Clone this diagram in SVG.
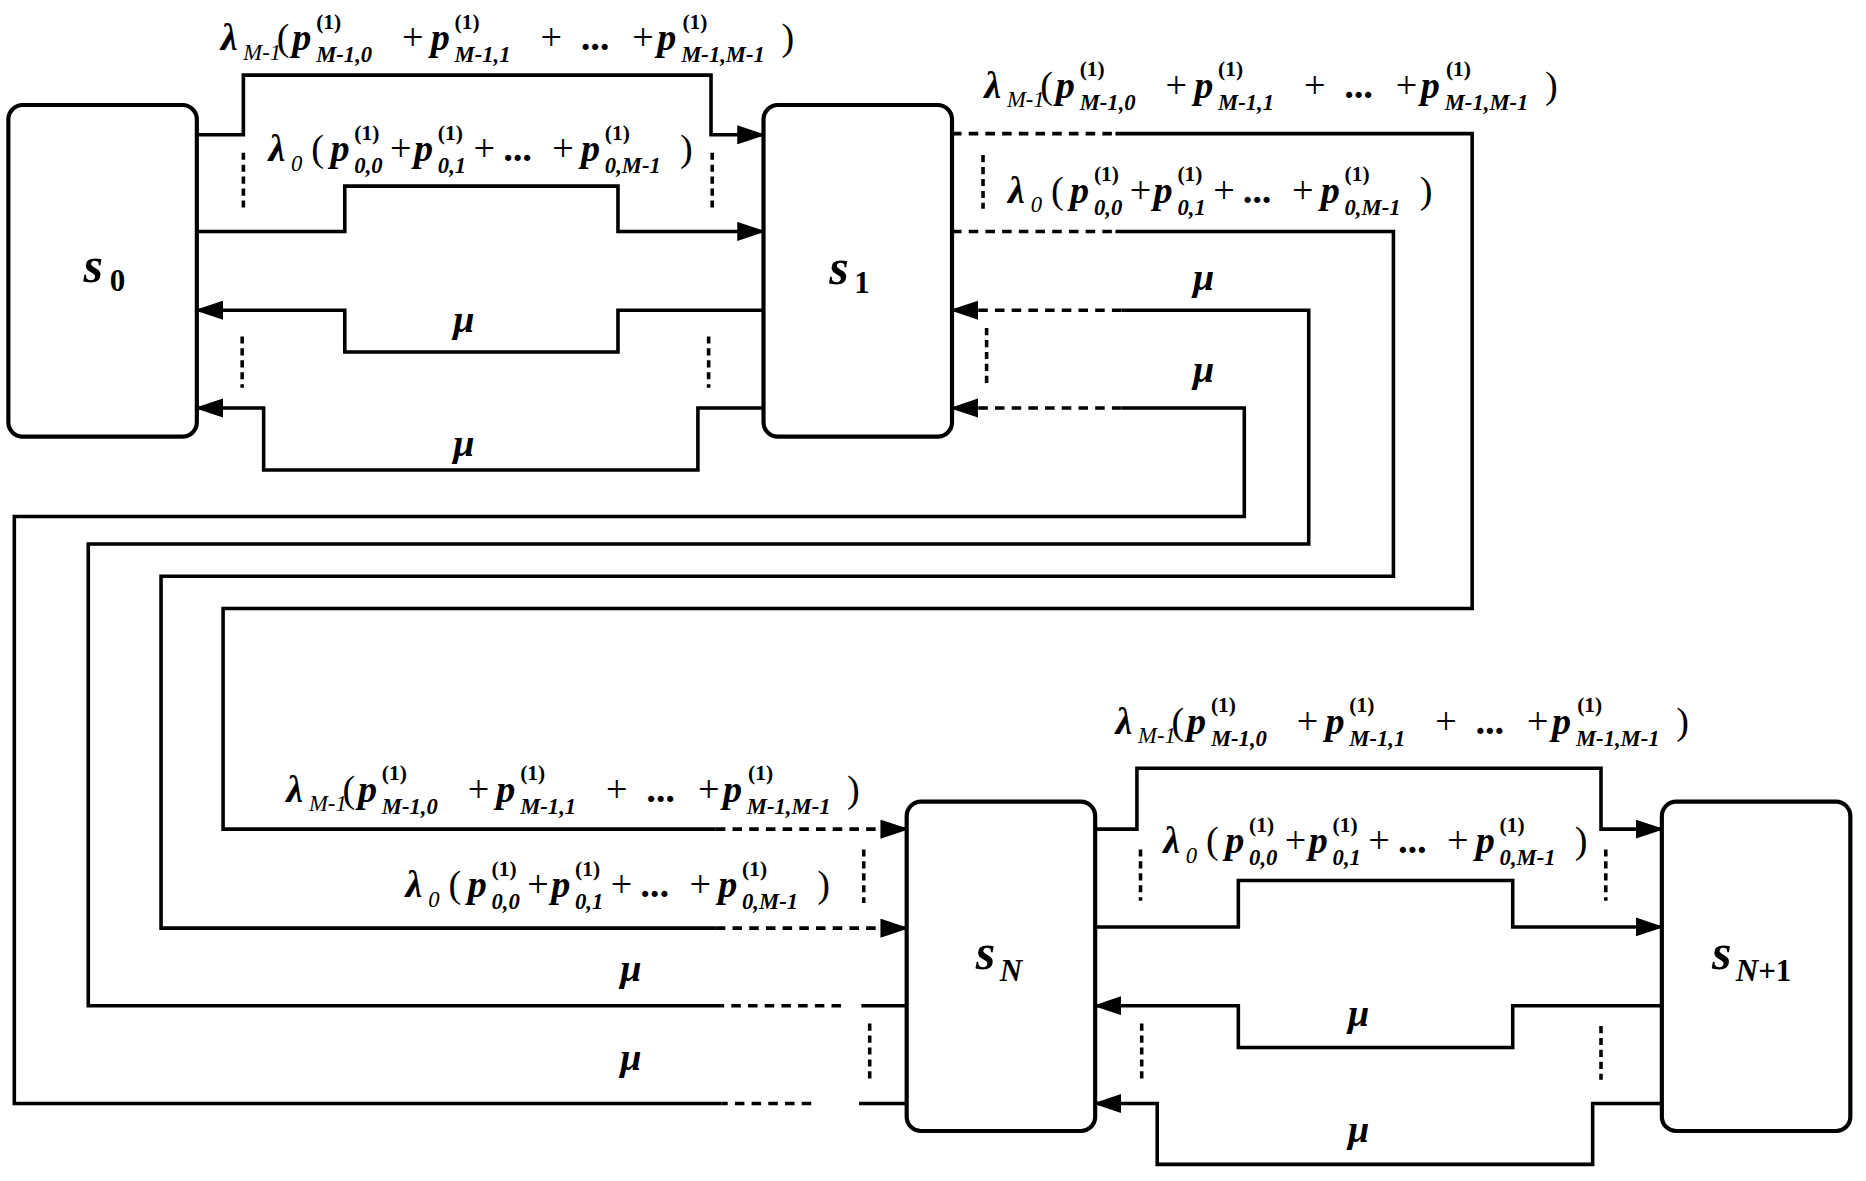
<svg xmlns="http://www.w3.org/2000/svg" xmlns:xlink="http://www.w3.org/1999/xlink" width="1866" height="1181" viewBox="0 0 1866 1181" font-family="'Liberation Serif', 'Times New Roman', serif">
<style>
.ln{fill:none;stroke:#000;stroke-width:3}
.ds{fill:none;stroke:#000;stroke-width:3;stroke-dasharray:8,6}
.dt{fill:none;stroke:#000;stroke-width:3;stroke-dasharray:6,4}
.box{fill:#fff;stroke:#000;stroke-width:3.5}
text{font-family:'Liberation Serif','Times New Roman',serif;fill:#000}
.m{font-size:32px;font-style:italic;font-weight:bold}
.r{font-size:32px}
.s{font-size:19px;font-style:italic}
.sb{font-size:19px;font-style:italic;font-weight:bold}
.u{font-size:18px;font-weight:bold}
</style>
<defs>
<marker id="ar" markerWidth="24" markerHeight="16" refX="22" refY="8" orient="auto" markerUnits="userSpaceOnUse"><path d="M0,0 L24,8 L0,16 z" fill="#000"/></marker>
<g id="labA" font-family="'Liberation Serif', serif">
<text class="m" x="0" y="0">λ</text><text class="s" x="19" y="8">M-1</text>
<text class="r" x="47" y="0">(</text>
<text class="m" x="60" y="0">p</text><text class="u" x="80" y="-18">(1)</text><text class="sb" x="80" y="10">M-1,0</text>
<text class="r" x="152" y="0">+</text>
<text class="m" x="176" y="0">p</text><text class="u" x="196" y="-18">(1)</text><text class="sb" x="196" y="10">M-1,1</text>
<text class="r" x="268" y="0">+</text>
<text class="m" x="303" y="0">...</text>
<text class="r" x="345" y="0">+</text>
<text class="m" x="366" y="0">p</text><text class="u" x="387" y="-18">(1)</text><text class="sb" x="386" y="10">M-1,M-1</text>
<text class="r" x="470" y="0">)</text>
</g>
<g id="labB" font-family="'Liberation Serif', serif">
<text class="m" x="0" y="0">λ</text><text class="s" x="19" y="8">0</text>
<text class="r" x="36" y="0">(</text>
<text class="m" x="52" y="0">p</text><text class="u" x="72" y="-18">(1)</text><text class="sb" x="72" y="10">0,0</text>
<text class="r" x="102" y="0">+</text>
<text class="m" x="122" y="0">p</text><text class="u" x="142" y="-18">(1)</text><text class="sb" x="142" y="10">0,1</text>
<text class="r" x="172" y="0">+</text>
<text class="m" x="198" y="0">...</text>
<text class="r" x="238" y="0">+</text>
<text class="m" x="262" y="0">p</text><text class="u" x="282" y="-18">(1)</text><text class="sb" x="282" y="10">0,M-1</text>
<text class="r" x="345" y="0">)</text>
</g>
</defs>
<rect width="1866" height="1181" fill="#fff"/>
<g transform="scale(1.193)">
<g id="connectors">
<polyline class="ln" points="165,113 204,113 204,63 596,63 596,113 640,113" marker-end="url(#ar)"/>
<polyline class="ln" points="165,194 289,194 289,156 518,156 518,194 640,194" marker-end="url(#ar)"/>
<polyline class="ln" points="640,260 518,260 518,295 289,295 289,260 165,260" marker-end="url(#ar)"/>
<polyline class="ln" points="640,342 585,342 585,394 221,394 221,342 165,342" marker-end="url(#ar)"/>
<line class="dt" x1="204" y1="128" x2="204" y2="175"/><line class="dt" x1="597" y1="128" x2="597" y2="175"/>
<line class="dt" x1="203" y1="282" x2="203" y2="325"/><line class="dt" x1="594" y1="282" x2="594" y2="325"/>
<line class="ds" x1="798" y1="112" x2="935" y2="112"/>
<polyline class="ln" points="935,112 1234,112 1234,510 187,510 187,695 600,695"/>
<line class="ds" x1="600" y1="695" x2="760" y2="695" marker-end="url(#ar)"/>
<line class="ds" x1="798" y1="194" x2="935" y2="194"/>
<polyline class="ln" points="935,194 1168,194 1168,483 135,483 135,778 600,778"/>
<line class="ds" x1="600" y1="778" x2="760" y2="778" marker-end="url(#ar)"/>
<line class="ln" x1="760" y1="843" x2="722" y2="843"/>
<line class="ds" x1="705" y1="843" x2="605" y2="843"/>
<polyline class="ln" points="605,843 74,843 74,456 1097,456 1097,260 940,260"/>
<line class="ds" x1="940" y1="260" x2="798" y2="260" marker-end="url(#ar)"/>
<line class="ln" x1="760" y1="925" x2="720" y2="925"/>
<line class="ds" x1="680" y1="925" x2="605" y2="925"/>
<polyline class="ln" points="605,925 12,925 12,433 1043,433 1043,342 940,342"/>
<line class="ds" x1="940" y1="342" x2="798" y2="342" marker-end="url(#ar)"/>
<line class="dt" x1="824" y1="130" x2="824" y2="175"/><line class="dt" x1="827" y1="275" x2="827" y2="325"/>
<line class="dt" x1="724" y1="712" x2="724" y2="757"/><line class="dt" x1="729" y1="858" x2="729" y2="905"/>
<polyline class="ln" points="918,695 953,695 953,644 1342,644 1342,695 1393,695" marker-end="url(#ar)"/>
<polyline class="ln" points="918,777 1038,777 1038,738 1268,738 1268,777 1393,777" marker-end="url(#ar)"/>
<polyline class="ln" points="1393,843 1268,843 1268,878 1038,878 1038,843 918,843" marker-end="url(#ar)"/>
<polyline class="ln" points="1393,925 1335,925 1335,976 970,976 970,925 918,925" marker-end="url(#ar)"/>
<line class="dt" x1="956" y1="712" x2="956" y2="755"/><line class="dt" x1="1346" y1="712" x2="1346" y2="755"/>
<line class="dt" x1="957" y1="858" x2="957" y2="905"/><line class="dt" x1="1342" y1="860" x2="1342" y2="905"/>
</g>
<g id="labels">
<use xlink:href="#labA" href="#labA" transform="translate(185,42)"/>
<use xlink:href="#labB" href="#labB" transform="translate(225,135)"/>
<use xlink:href="#labA" href="#labA" transform="translate(825,82)"/>
<use xlink:href="#labB" href="#labB" transform="translate(845,170)"/>
<use xlink:href="#labA" href="#labA" transform="translate(240,672)"/>
<use xlink:href="#labB" href="#labB" transform="translate(340,752)"/>
<use xlink:href="#labA" href="#labA" transform="translate(935,615)"/>
<use xlink:href="#labB" href="#labB" transform="translate(975,715)"/>
<text class="m" x="380" y="278">μ</text><text class="m" x="380" y="382">μ</text>
<text class="m" x="1000" y="243">μ</text><text class="m" x="1000" y="320">μ</text>
<text class="m" x="520" y="822">μ</text><text class="m" x="520" y="897">μ</text>
<text class="m" x="1130" y="860">μ</text><text class="m" x="1130" y="957">μ</text>
</g>
<g id="S0"><rect class="box" x="7" y="88" width="158" height="278" rx="12"/><text class="m" x="70" y="236" style="font-size:42px">s</text><text x="92" y="244" style="font-size:26px;font-weight:bold">0</text></g>
<g id="S1"><rect class="box" x="640" y="88" width="158" height="278" rx="12"/><text class="m" x="695" y="238" style="font-size:42px">s</text><text x="716" y="246" style="font-size:26px;font-weight:bold">1</text></g>
<g id="SN"><rect class="box" x="760" y="672" width="158" height="276" rx="12"/><text class="m" x="818" y="812" style="font-size:42px">s</text><text x="838" y="822" style="font-size:26px;font-style:italic;font-weight:bold">N</text></g>
<g id="SN1"><rect class="box" x="1393" y="672" width="158" height="276" rx="12"/><text class="m" x="1435" y="812" style="font-size:42px">s</text><text x="1455" y="822" style="font-size:26px;font-weight:bold"><tspan font-style="italic">N</tspan>+1</text></g>
</g>
</svg>
